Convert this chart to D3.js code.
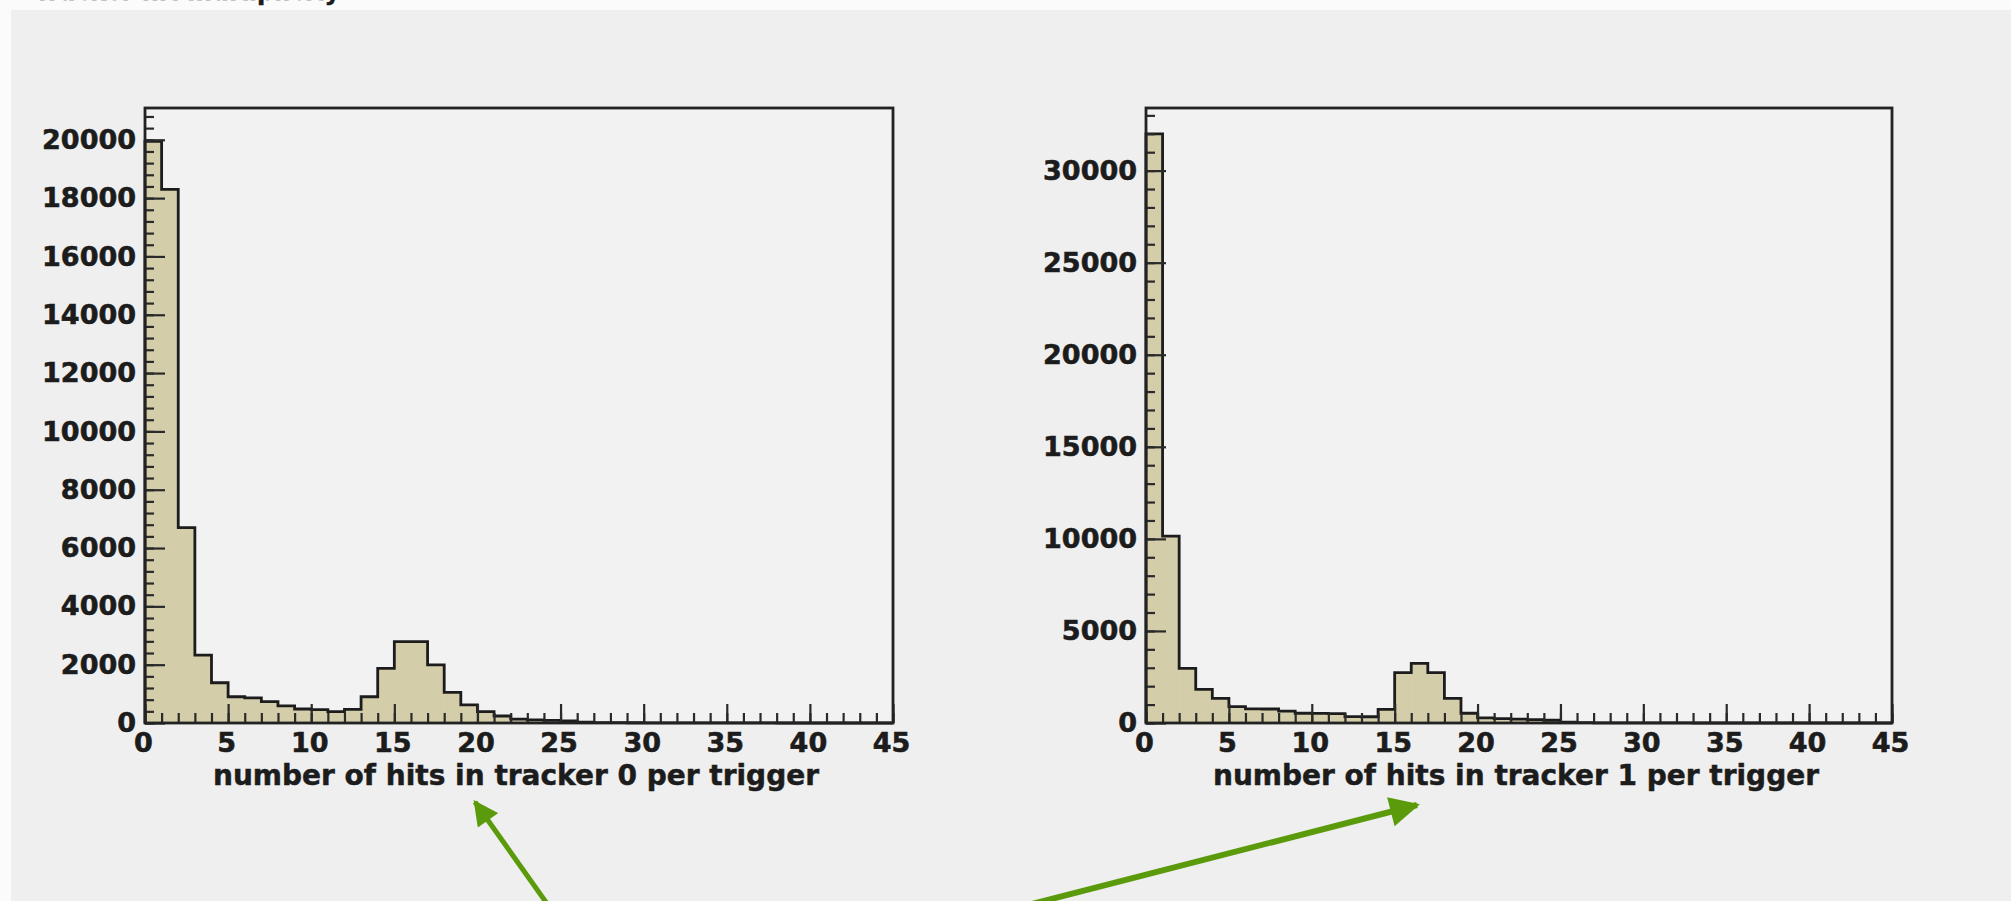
<!DOCTYPE html>
<html>
<head>
<meta charset="utf-8">
<script src="https://cdn.jsdelivr.net/npm/d3@7"></script>
<style>
  html, body { margin: 0; padding: 0; background: #fbfbfb; }
  svg { display: block; }
  .tick text { font-family: "DejaVu Sans", sans-serif; font-weight: bold; fill: #1c1c1c; stroke: #1c1c1c; stroke-width: 0.6px; }
  .title { font-family: "DejaVu Sans", sans-serif; font-weight: bold; fill: #1c1c1c; stroke: #1c1c1c; stroke-width: 0.5px; }
</style>
</head>
<body>
<svg id="chart"></svg>
<script>
// histogram contents, one value per unit bin from 0 to 45
const tracker0Counts = [
  19950, 18300, 6700, 2330, 1380, 900, 860, 730, 590, 480,
  460, 390, 470, 900, 1870, 2790, 2790, 1990, 1050, 620,
  390, 240, 130, 110, 90, 70, 30, 15, 10, 8,
  5, 4, 3, 2, 2, 1, 1, 1, 0, 0,
  0, 0, 0, 0, 0
];
const tracker1Counts = [
  32000, 10150, 2970, 1830, 1340, 890, 770, 760, 650, 530,
  520, 510, 350, 340, 740, 2740, 3240, 2740, 1340, 530,
  280, 240, 210, 180, 150, 40, 20, 10, 8, 5,
  4, 3, 2, 1, 1, 1, 0, 0, 0, 0,
  0, 0, 0, 0, 0
];

// axis ticks
const xTicks = [0, 5, 10, 15, 20, 25, 30, 35, 40, 45];
const yTicks0 = [0, 2000, 4000, 6000, 8000, 10000, 12000, 14000, 16000, 18000, 20000];
const yTicks1 = [0, 5000, 10000, 15000, 20000, 25000, 30000];
const titles = ["number of hits in tracker 0 per trigger", "number of hits in tracker 1 per trigger"];

const W = 2011, H = 901;
const svg = d3.select("#chart").attr("width", W).attr("height", H);

// grey panel behind the plots
svg.append("rect")
  .attr("x", 11).attr("y", 10)
  .attr("width", W - 11).attr("height", H - 10)
  .attr("fill", "#efefef");

// heading, cut off by the top edge as in the screenshot
svg.append("text")
  .attr("class", "title")
  .attr("x", 34).attr("y", 0)
  .style("font-size", "24px")
  .text("Tracker hit multiplicity");

// two pads
const pads = [
  { counts: tracker0Counts, yTicks: yTicks0, yMax: 21090, yMinor: 400, title: titles[0], left: 145, right: 893 },
  { counts: tracker1Counts, yTicks: yTicks1, yMax: 33400, yMinor: 1000, title: titles[1], left: 1146, right: 1892 }
];
const plotTop = 108, plotBottom = 723;

pads.forEach(function(p) {
  const g = svg.append("g");

  const x = d3.scaleLinear().domain([0, 45]).range([p.left, p.right]);
  const y = d3.scaleLinear().domain([0, p.yMax]).range([plotBottom, plotTop]);

  // frame
  g.append("rect")
    .attr("x", p.left).attr("y", plotTop)
    .attr("width", p.right - p.left).attr("height", plotBottom - plotTop)
    .attr("fill", "#f2f2f2");

  // filled bins
  g.selectAll(".bin")
    .data(p.counts)
    .enter().append("rect")
    .attr("class", "bin")
    .attr("x", (d, i) => x(i))
    .attr("y", d => y(d))
    .attr("width", x(1) - x(0) + 0.5)
    .attr("height", d => plotBottom - y(d))
    .attr("fill", "#d4cdaa");

  // outline of the histogram
  const pts = [[0, 0]];
  p.counts.forEach((d, i) => pts.push([i, d]));
  pts.push([45, 0]);
  g.append("path")
    .datum(pts)
    .attr("fill", "none")
    .attr("stroke", "#1c1c1c")
    .attr("stroke-width", 2.8)
    .attr("d", d3.line().x(d => x(d[0])).y(d => y(d[1])).curve(d3.curveStepAfter));

  // minor ticks
  const yMinorTicks = d3.range(0, p.yMax, p.yMinor);
  g.append("g")
    .attr("transform", "translate(" + p.left + ",0)")
    .call(d3.axisLeft(y).tickValues(yMinorTicks).tickSize(-9).tickFormat(""))
    .call(a => a.select(".domain").remove())
    .selectAll("line").attr("stroke", "#2a2a2a").attr("stroke-width", 2.2);
  g.append("g")
    .attr("transform", "translate(0," + plotBottom + ")")
    .call(d3.axisBottom(x).tickValues(d3.range(0, 46, 1)).tickSize(-10).tickFormat(""))
    .call(a => a.select(".domain").remove())
    .selectAll("line").attr("stroke", "#2a2a2a").attr("stroke-width", 2.2);

  // major ticks and labels
  const yAxis = g.append("g")
    .attr("transform", "translate(" + p.left + ",0)")
    .call(d3.axisLeft(y).tickValues(p.yTicks).tickSize(-20).tickPadding(9).tickFormat(d3.format("d")));
  yAxis.select(".domain").remove();
  yAxis.selectAll("line").attr("stroke", "#2a2a2a").attr("stroke-width", 2.2);
  yAxis.selectAll("text").style("font-size", "27px");

  const xAxis = g.append("g")
    .attr("transform", "translate(0," + plotBottom + ")")
    .call(d3.axisBottom(x).tickValues(xTicks).tickSize(-19).tickPadding(10));
  xAxis.select(".domain").remove();
  xAxis.selectAll("line").attr("stroke", "#2a2a2a").attr("stroke-width", 2.2);
  xAxis.selectAll("text").style("font-size", "27px").attr("dx", -2);

  // frame border
  g.append("rect")
    .attr("x", p.left).attr("y", plotTop)
    .attr("width", p.right - p.left).attr("height", plotBottom - plotTop)
    .attr("fill", "none")
    .attr("stroke", "#222")
    .attr("stroke-width", 2.8);

  // axis title
  g.append("text")
    .attr("class", "title")
    .attr("x", (p.left + p.right) / 2 - 3)
    .attr("y", 785)
    .attr("text-anchor", "middle")
    .style("font-size", "28px")
    .text(p.title);
});

// green annotation arrows pointing at the axis titles
const arrows = [
  { from: [548, 905], to: [475, 802], width: 5 },
  { from: [1028, 905], to: [1417, 805], width: 6 }
];
svg.append("defs").append("marker")
  .attr("id", "head")
  .attr("viewBox", "0 0 10 10")
  .attr("refX", 9).attr("refY", 5)
  .attr("markerWidth", 5.2).attr("markerHeight", 5)
  .attr("markerUnits", "strokeWidth")
  .attr("orient", "auto")
  .append("path")
  .attr("d", "M0,0 L10,5 L0,10 z")
  .attr("fill", "#5b9a0b");

svg.selectAll(".arrow")
  .data(arrows)
  .enter().append("line")
  .attr("class", "arrow")
  .attr("x1", d => d.from[0]).attr("y1", d => d.from[1])
  .attr("x2", d => d.to[0]).attr("y2", d => d.to[1])
  .attr("stroke", "#5b9a0b")
  .attr("stroke-width", d => d.width)
  .attr("marker-end", "url(#head)");
</script>
</body>
</html>
